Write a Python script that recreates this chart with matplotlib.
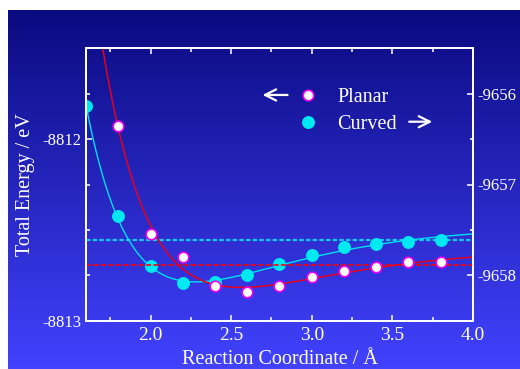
import numpy as np
import matplotlib
matplotlib.use('Agg')
import matplotlib.pyplot as plt
from matplotlib.ticker import MultipleLocator, FormatStrFormatter
from matplotlib.colors import LinearSegmentedColormap

plt.rcParams['font.family'] = ['Liberation Serif', 'DejaVu Serif']
plt.rcParams['axes.unicode_minus'] = False

# reaction coordinate (angstrom) and total energies (eV)
planar_r = [1.8, 2.0, 2.2, 2.4, 2.6, 2.8, 3.0, 3.2, 3.4, 3.6, 3.8]
planar_E = [-8811.93, -8812.52, -8812.65, -8812.81, -8812.84, -8812.81,
            -8812.76, -8812.725, -8812.705, -8812.675, -8812.675]
curved_r = [1.6, 1.8, 2.0, 2.2, 2.4, 2.6, 2.8, 3.0, 3.2, 3.4, 3.6, 3.8]
curved_E = [-9656.14, -9657.35, -9657.90, -9658.085, -9658.075, -9657.99,
            -9657.872, -9657.77, -9657.69, -9657.655, -9657.63, -9657.615]
# reference levels (dashed lines)
planar_ref = -8812.69
curved_ref = -9657.615


def morse_fit(r, E):
    # least squares Morse curve, grid over a and r0
    r = np.asarray(r)
    E = np.asarray(E)
    best = None
    for a in np.linspace(0.6, 3.0, 97):
        for r0 in np.linspace(2.0, 3.2, 121):
            X = np.column_stack([np.ones_like(r), (1 - np.exp(-a * (r - r0))) ** 2])
            coef = np.linalg.lstsq(X, E, rcond=None)[0]
            err = np.sum((X @ coef - E) ** 2)
            if best is None or err < best[0]:
                best = (err, a, r0, coef)
    _, a, r0, (e0, d) = best
    return lambda x: e0 + d * (1 - np.exp(-a * (x - r0))) ** 2


fig = plt.figure(figsize=(5.2, 3.69), dpi=100, facecolor='white')

# gradient background
bg = fig.add_axes([8 / 520, 0, 512 / 520, 359 / 369])
cmap = LinearSegmentedColormap.from_list('bg', ['#0a0a80', '#4242ff'])
bg.imshow(np.linspace(0, 1, 256).reshape(-1, 1), aspect='auto', cmap=cmap)
bg.axis('off')

ax = fig.add_axes([0.1654, 0.1301, 0.7442, 0.7398])
ax2 = ax.twinx()
ax.set_zorder(ax2.get_zorder() + 1)
ax.patch.set_visible(False)
ax2.patch.set_visible(False)

rr = np.linspace(1.55, 4.05, 400)

# curved -> right axis
ax2.axhline(curved_ref, color='#19c8f0', lw=1.6, ls=(0, (2.0, 1.0)))
ax2.plot(rr, morse_fit(curved_r, curved_E)(rr), color='#00e0f0', lw=1.0)
curved_pts, = ax2.plot(curved_r, curved_E, 'o', color='#00e8f0', ms=8.3,
                       mec='#00e8f0', label='Curved')

# planar -> left axis
ax.axhline(planar_ref, color='#ff0000', lw=1.2, ls=(0, (3, 1.5)))
ax.plot(rr, morse_fit(planar_r, planar_E)(rr), color='#e8001c', lw=1.1)
planar_pts, = ax.plot(planar_r, planar_E, 'o', color='white', ms=7.6,
                      mec='#f000f0', mew=1.2, label='Planar')

ax.set_xlim(1.6, 4.0)
ax.set_ylim(-8813, -8811.5)
ax2.set_ylim(-9658.5, -9655.5)

ax.xaxis.set_major_locator(MultipleLocator(0.5))
ax.xaxis.set_minor_locator(MultipleLocator(0.25))
ax.xaxis.set_major_formatter(FormatStrFormatter('%.1f'))
ax.yaxis.set_major_locator(MultipleLocator(1))
ax.yaxis.set_minor_locator(MultipleLocator(0.25))
ax2.yaxis.set_major_locator(MultipleLocator(1))
ax2.yaxis.set_minor_locator(MultipleLocator(0.5))

ax.tick_params(axis='both', which='both', direction='in', color='white',
               labelcolor='white', width=1.1, top=True, right=False)
ax.tick_params(which='major', length=4.3)
ax.tick_params(which='minor', length=3)
ax.tick_params(axis='x', labelsize=14, pad=4)
ax.tick_params(axis='y', labelsize=12, pad=3.5)
ax2.tick_params(axis='y', which='both', direction='in', color='white',
                labelcolor='white', width=1.1, labelsize=12, pad=3.5)
ax2.tick_params(which='major', length=4.3)
ax2.tick_params(which='minor', length=2.5)

for a_ in (ax, ax2):
    for s in a_.spines.values():
        s.set_color('white')
        s.set_linewidth(1.3)

ax.set_xlabel('Reaction Coordinate / Å', color='white', fontsize=14.5, labelpad=4.5)
ax.set_ylabel('Total Energy / eV', color='white', fontsize=14.5, labelpad=5)

leg = ax.legend(handles=[planar_pts, curved_pts], loc='upper left',
                bbox_to_anchor=(0.548, 0.853), frameon=False, numpoints=1,
                handlelength=1.0, handletextpad=0.95, labelspacing=0.38,
                borderpad=0, borderaxespad=0, fontsize=14.5)
for t in leg.get_texts():
    t.set_color('white')

arrow = dict(arrowstyle='->', color='white', lw=1.6, mutation_scale=20)
ax.annotate('', xy=(0.449, 0.828), xytext=(0.528, 0.828),
            xycoords='axes fraction', arrowprops=arrow)
ax.annotate('', xy=(0.902, 0.730), xytext=(0.828, 0.730),
            xycoords='axes fraction', arrowprops=arrow)

fig.savefig('out.png', dpi=100, facecolor='white')
